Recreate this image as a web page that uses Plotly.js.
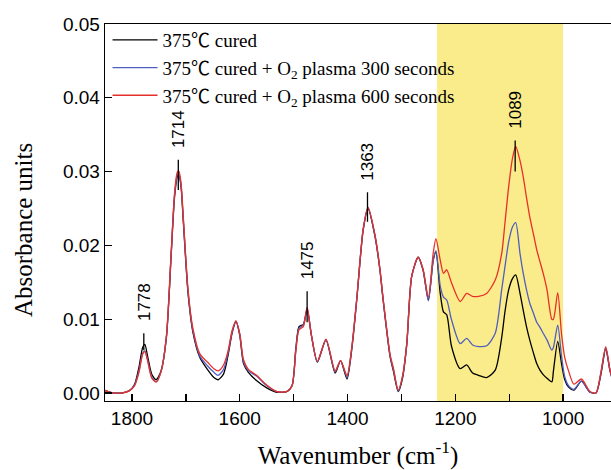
<!DOCTYPE html>
<html>
<head>
<meta charset="utf-8">
<script src="https://cdn.plot.ly/plotly-3.0.1.min.js"></script>
<style>html,body{margin:0;padding:0;background:#fff;}#chart{width:611px;height:470px;}</style>
</head>
<body>
<div id="chart"></div>
<script>
// Wavenumber grid (cm^-1)
var wavenumber = [1855,1840,1820,1805,1795,1787,1780,1776,1771,1763,1755,1746,1736,1727,1721,1716,1713,1709,1705,1696,1687,1674,1660,1648,1640,1630,1622,1614,1607,1600,1593,1584,1569,1550,1531,1513,1503,1496,1490,1482,1475,1467,1456,1440,1423,1413,1401,1392,1383,1371,1362,1349,1340,1334,1321,1315,1306,1298,1290,1281,1269,1260,1250,1241,1236,1228,1222,1216,1207,1191,1179,1168,1157,1142,1126,1114,1108,1101,1094,1088,1080,1074,1068,1062,1055,1049,1043,1037,1030,1021,1018,1010,1003,997,990,980,966,950,939,930,921,913,905];
var cured = [0.0005,0.0001,0.0000,0.0003,0.0012,0.0035,0.0062,0.0066,0.0050,0.0025,0.0018,0.0030,0.0076,0.0190,0.0265,0.0293,0.0296,0.0280,0.0236,0.0136,0.0083,0.0048,0.0032,0.0021,0.0018,0.0026,0.0050,0.0082,0.0097,0.0078,0.0040,0.0028,0.0017,0.0007,0.0001,0.0002,0.0010,0.0060,0.0090,0.0093,0.0113,0.0078,0.0042,0.0072,0.0027,0.0044,0.0019,0.0060,0.0126,0.0221,0.0250,0.0212,0.0167,0.0126,0.0049,0.0030,0.0002,0.0020,0.0067,0.0158,0.0184,0.0167,0.0126,0.0180,0.0191,0.0135,0.0110,0.0106,0.0063,0.0033,0.0038,0.0027,0.0024,0.0021,0.0031,0.0075,0.0110,0.0140,0.0155,0.0160,0.0135,0.0112,0.0090,0.0072,0.0054,0.0040,0.0031,0.0025,0.0020,0.0015,0.0030,0.0070,0.0040,0.0018,0.0008,0.0004,0.0016,0.0001,0.0000,0.0025,0.0060,0.0030,0.0010];
var plasma300 = [0.0005,0.0001,0.0000,0.0003,0.0011,0.0030,0.0054,0.0057,0.0045,0.0021,0.0015,0.0029,0.0076,0.0192,0.0268,0.0295,0.0297,0.0282,0.0239,0.0138,0.0085,0.0050,0.0037,0.0028,0.0024,0.0032,0.0053,0.0083,0.0097,0.0080,0.0042,0.0030,0.0023,0.0010,0.0002,0.0002,0.0010,0.0058,0.0088,0.0092,0.0115,0.0078,0.0042,0.0072,0.0029,0.0044,0.0022,0.0062,0.0126,0.0221,0.0251,0.0213,0.0168,0.0127,0.0050,0.0032,0.0003,0.0022,0.0067,0.0158,0.0184,0.0167,0.0125,0.0180,0.0193,0.0145,0.0130,0.0126,0.0099,0.0067,0.0074,0.0065,0.0063,0.0064,0.0081,0.0140,0.0171,0.0205,0.0225,0.0231,0.0189,0.0162,0.0140,0.0122,0.0108,0.0096,0.0089,0.0081,0.0072,0.0058,0.0062,0.0092,0.0050,0.0022,0.0010,0.0005,0.0016,0.0001,0.0000,0.0027,0.0061,0.0030,0.0010];
var plasma600 = [0.0005,0.0001,0.0000,0.0003,0.0010,0.0028,0.0053,0.0056,0.0044,0.0020,0.0015,0.0029,0.0078,0.0194,0.0270,0.0299,0.0301,0.0285,0.0241,0.0141,0.0088,0.0053,0.0042,0.0033,0.0030,0.0038,0.0056,0.0085,0.0098,0.0080,0.0045,0.0032,0.0024,0.0011,0.0002,0.0002,0.0010,0.0056,0.0086,0.0090,0.0116,0.0078,0.0043,0.0073,0.0030,0.0044,0.0024,0.0063,0.0127,0.0222,0.0252,0.0214,0.0169,0.0128,0.0052,0.0034,0.0004,0.0023,0.0068,0.0158,0.0184,0.0168,0.0130,0.0190,0.0209,0.0180,0.0162,0.0167,0.0149,0.0124,0.0135,0.0131,0.0131,0.0135,0.0153,0.0189,0.0230,0.0280,0.0318,0.0334,0.0315,0.0293,0.0265,0.0239,0.0215,0.0194,0.0178,0.0162,0.0140,0.0100,0.0100,0.0136,0.0080,0.0048,0.0030,0.0012,0.0019,0.0002,0.0000,0.0028,0.0063,0.0031,0.0010];
var degC = '<span style="font-family:Noto Sans CJK SC">℃</span>';
var seriesNames = ['375' + degC + ' cured',
  '375' + degC + ' cured + O<sub>2</sub> plasma 300 seconds',
  '375' + degC + ' cured + O<sub>2</sub> plasma 600 seconds'];
// Peak markers
var peakLabels = ['1778','1714','1475','1363','1089'];
var peakPos = [1778,1714,1475,1363,1089];
var markTop = [0.0081,0.0316,0.0138,0.0272,0.0342];
var markBottom = [0.0058,0.0275,0.0096,0.0232,0.0300];
// Highlighted band
var bandFrom = 1234, bandTo = 1000;

var colors = ['#000000','#4f5fbf','#e8302a'];
var ys = [cured, plasma300, plasma600];
var traces = ys.map(function(y,i){
  return {x: wavenumber, y: y, type:'scatter', mode:'lines', name: seriesNames[i],
    line:{color:colors[i], width:1.3, shape:'spline', smoothing:0.7}};
});

var shapes = [{type:'rect', xref:'x', yref:'paper', x0:bandFrom, x1:bandTo, y0:0, y1:1,
  fillcolor:'#fbec8b', line:{width:0}, layer:'below'}];
var annotations = [];
peakPos.forEach(function(p,i){
  shapes.push({type:'line', xref:'x', yref:'y', x0:p, x1:p, y0:markBottom[i], y1:markTop[i],
    line:{color:'#000', width:1.3}});
  annotations.push({x:p, y:markTop[i], xref:'x', yref:'y', text:peakLabels[i], showarrow:false,
    textangle:-90, xanchor:'center', yanchor:'bottom', yshift:10,
    font:{family:'Liberation Sans, Arial, sans-serif', size:17, color:'#000'}});
});
// Y axis title (placed to match the reference's off-centre position)
annotations.push({xref:'paper', yref:'paper', x:-0.16, y:0.4536, xanchor:'center', yanchor:'middle',
  text:'Absorbance units', textangle:-90, showarrow:false,
  font:{family:'Liberation Serif, Times New Roman, serif', size:25, color:'#000'}});

var layout = {
  width:611, height:470,
  margin:{l:105, r:0, t:24, b:69},
  paper_bgcolor:'#fff', plot_bgcolor:'rgba(0,0,0,0)',
  showlegend:true,
  legend:{x:0.005, y:1.008, xanchor:'left', yanchor:'top', bgcolor:'rgba(0,0,0,0)',
    font:{family:'Liberation Serif, Times New Roman, serif', size:19, color:'#000'},
    itemwidth:45, tracegroupgap:0},
  xaxis:{range:[1850, 911.2], autorange:false, showgrid:false, zeroline:false,
    showline:true, linecolor:'#000', linewidth:1.3, mirror:true,
    ticks:'inside', ticklen:7, tickwidth:1.3, tickcolor:'#000',
    tick0:1800, dtick:200,
    minor:{dtick:100, ticks:'inside', ticklen:7, tickwidth:1.3, tickcolor:'#000', showgrid:false},
    tickfont:{family:'Liberation Sans, Arial, sans-serif', size:19, color:'#000'},
    title:{text:'Wavenumber (cm<sup>-1</sup>)', standoff:19,
      font:{family:'Liberation Serif, Times New Roman, serif', size:25, color:'#000'}}},
  yaxis:{range:[-0.00108, 0.05], autorange:false, showgrid:false, zeroline:false,
    showline:true, linecolor:'#000', linewidth:1.3, mirror:false,
    ticks:'inside', ticklen:7, tickwidth:1.3, tickcolor:'#000',
    tick0:0, dtick:0.01, tickformat:'.2f',
    tickfont:{family:'Liberation Sans, Arial, sans-serif', size:19, color:'#000'}},
  shapes:shapes,
  annotations:annotations
};
Plotly.newPlot('chart', traces, layout, {staticPlot:true, displayModeBar:false});
</script>
</body>
</html>
